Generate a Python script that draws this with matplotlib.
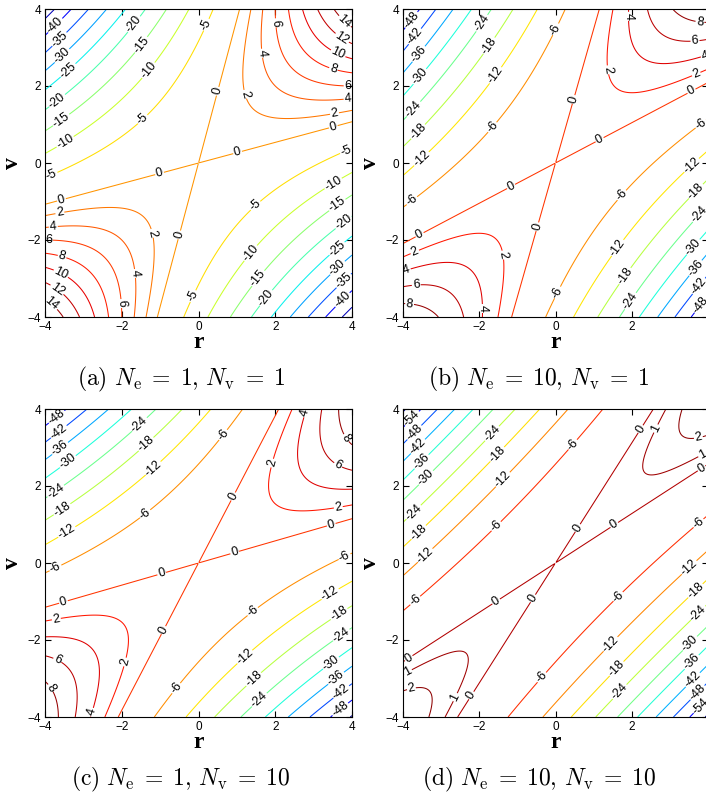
import numpy as np
import matplotlib
matplotlib.use("Agg")
import matplotlib.pyplot as plt

plt.rcParams["font.family"] = ["Liberation Sans", "DejaVu Sans"]
plt.rcParams["mathtext.fontset"] = "cm"

panel_tags = ["a", "b", "c", "d"]
n_e = [1, 10, 1, 10]
n_v = [1, 1, 10, 10]
k_rv = [2.0, 2.0, 2.0, 2.0]
k_rr = [0.5, 0.909, 0.5, 0.909]
k_vv = [0.5, 0.5, 0.909, 0.909]
neg_levels = [
    [-45, -40, -35, -30, -25, -20, -15, -10, -5],
    [-54, -48, -42, -36, -30, -24, -18, -12, -6],
    [-54, -48, -42, -36, -30, -24, -18, -12, -6],
    [-60, -54, -48, -42, -36, -30, -24, -18, -12, -6],
]
pos_levels = [
    [0, 2, 4, 6, 8, 10, 12, 14],
    [0, 2, 4, 6, 8],
    [0, 2, 4, 6, 8],
    [0, 1, 2],
]
axis_ticks = [-4, -2, 0, 2, 4]

# where the inline contour labels sit (layout only, in r/v units)
label_spots = [
    [(-3.78, 3.62), (-3.61, 3.20), (-3.52, 2.75), (-3.39, 2.40), (-1.66, 3.59), (-3.70, 1.64),
     (-1.44, 3.03), (-3.61, 1.16), (-1.27, 2.38), (-3.48, 0.56), (0.21, 3.59), (-1.44, 1.12),
     (-3.83, -0.31), (0.51, 1.86), (1.03, 0.23), (3.51, 0.95), (-1.01, -0.29), (-3.57, -0.96),
     (-0.49, -1.87), (1.16, 1.77), (3.55, 1.25), (-3.61, -1.31), (-1.22, -1.83), (1.64, 2.85),
     (3.9, 1.66), (-3.78, -1.70), (-1.66, -2.87), (1.99, 3.64), (3.9, 1.97), (-3.91, -2.0),
     (-2.0, -3.65), (3.51, 2.42), (-3.57, -2.48), (3.64, 2.85), (-3.61, -2.92), (3.77, 3.29),
     (-3.70, -3.31), (3.81, 3.68), (-3.87, -3.70), (3.85, 0.30), (1.47, -1.09), (-0.18, -3.44),
     (3.51, -0.53), (1.42, -2.39), (3.68, -1.18), (1.51, -2.96), (3.77, -1.53), (1.73, -3.48),
     (3.72, -2.35), (3.68, -2.79), (3.81, -3.09), (3.77, -3.57)],
    [(-3.78, 3.72), (-3.69, 3.29), (-3.61, 2.85), (-3.61, 2.29), (-1.94, 3.64), (-3.74, 1.42),
     (-1.72, 3.03), (-3.65, 0.86), (-1.59, 2.29), (-3.56, 0.16), (0.03, 3.46), (-1.68, 0.95),
     (-3.78, -0.96), (0.51, 1.64), (1.16, 0.60), (3.57, 1.86), (-1.16, -0.62), (-3.56, -1.87),
     (-0.46, -1.66), (1.38, 2.42), (3.70, 2.29), (-3.69, -2.31), (-1.37, -2.39), (1.91, 3.81),
     (3.92, 2.81), (-3.91, -2.79), (-1.94, -3.78), (3.66, 3.16), (-3.65, -3.18), (3.79, 3.68),
     (-3.83, -3.70), (3.83, 0.99), (1.73, -0.83), (0.03, -3.35), (3.61, -0.10), (1.65, -2.22),
     (3.70, -0.75), (1.86, -2.96), (3.79, -1.35), (2.0, -3.61), (3.66, -2.22), (3.75, -2.79),
     (3.79, -3.22), (3.83, -3.70)],
    [(-3.74, 3.85), (-3.65, 3.42), (-3.61, 2.98), (-3.44, 2.68), (-1.53, 3.59), (-3.74, 1.90),
     (-1.35, 3.07), (-3.57, 1.42), (-1.18, 2.46), (-3.44, 0.82), (0.64, 3.33), (-1.40, 1.29),
     (-3.74, -0.10), (0.90, 1.73), (0.95, 0.25), (3.46, 0.99), (-0.96, -0.27), (-3.52, -1.01),
     (-0.92, -1.74), (1.94, 2.59), (3.64, 1.47), (-3.70, -1.48), (-1.92, -2.57), (2.77, 3.90),
     (-2.79, -3.87), (3.64, 2.55), (-3.70, -2.57), (3.85, 3.25), (-3.87, -3.26), (3.81, 0.16),
     (1.42, -1.27), (-0.62, -3.22), (3.42, -0.79), (1.21, -2.44), (3.68, -1.35), (1.42, -3.0),
     (3.72, -1.87), (1.60, -3.57), (3.46, -2.61), (3.59, -3.0), (3.72, -3.35), (3.72, -3.83)],
    [(-3.78, 3.77), (-3.69, 3.38), (-3.61, 3.03), (-3.52, 2.64), (-3.43, 2.25), (-1.68, 3.38),
     (-3.74, 1.34), (-1.51, 2.81), (-3.61, 0.82), (-1.37, 2.16), (-3.43, 0.21), (0.46, 3.07),
     (-1.55, 0.95), (-3.69, -0.96), (2.26, 3.46), (1.56, 0.96), (0.60, 0.90), (-1.55, -1.01),
     (-0.59, -0.92), (-3.87, -2.44), (-2.21, -3.44), (3.83, 2.46), (2.70, 3.46), (3.83, 2.85),
     (-3.87, -2.83), (-2.64, -3.48), (3.75, 3.25), (-3.78, -3.26), (3.79, 0.99), (1.65, -0.88),
     (-0.37, -2.96), (3.53, -0.14), (1.47, -2.13), (3.70, -0.75), (1.65, -2.79), (3.75, -1.31),
     (1.73, -3.39), (3.57, -2.13), (3.66, -2.66), (3.70, -3.13), (3.75, -3.39), (3.83, -3.74)],
]

W, H = 706, 799
fig = plt.figure(figsize=(W / 100, H / 100), dpi=100)

# pixel boxes of the four panels (left, top, width, height)
boxes = [(45, 9, 307, 308), (403, 9, 305, 308), (45, 409, 307, 308), (403, 409, 305, 308)]
caption_xy = [(181, 379), (539, 379), (181, 779), (539, 779)]

r = np.linspace(-4, 4, 401)
v = np.linspace(-4, 4, 401)
R, V = np.meshgrid(r, v)

for i, tag in enumerate(panel_tags):
    x0, y0, w, h = boxes[i]
    ax = fig.add_axes([x0 / W, 1 - (y0 + h) / H, w / W, h / H])
    F = k_rv[i] * R * V - k_rr[i] * R ** 2 - k_vv[i] * V ** 2
    levels = neg_levels[i] + pos_levels[i]
    cs = ax.contour(R, V, F, levels=levels, cmap="jet", vmin=F.min(), vmax=F.max(),
                    linewidths=0.75)
    ax.clabel(cs, fmt="%d", fontsize=9, colors="k", inline=True, inline_spacing=1,
              manual=label_spots[i])
    ax.set_xlim(-4, 4)
    ax.set_ylim(-4, 4)
    ax.set_xticks(axis_ticks)
    ax.set_yticks(axis_ticks)
    if i % 2 == 1:
        # right column is cut at the figure edge, its last tick label is not visible
        ax.set_xticklabels(["\u22124", "\u22122", "0", "2", ""])
    ax.tick_params(direction="in", top=True, right=True, labelsize=8.5, length=4, pad=3)
    for sp in ax.spines.values():
        sp.set_linewidth(0.8)
    ax.set_xlabel("r", fontsize=17, fontweight="bold", family="Liberation Serif", labelpad=-1)
    ax.set_ylabel("v", fontsize=17, fontweight="bold", family="Liberation Serif", labelpad=3)

    cx, cy = caption_xy[i]
    fig.text(cx / W, 1 - cy / H,
             rf"$\mathrm{{({tag})}}\ N_\mathrm{{e}}\;=\;{n_e[i]},\,N_\mathrm{{v}}\;=\;{n_v[i]}$",
             ha="center", va="center", fontsize=17)

fig.savefig("out.png", dpi=100)
